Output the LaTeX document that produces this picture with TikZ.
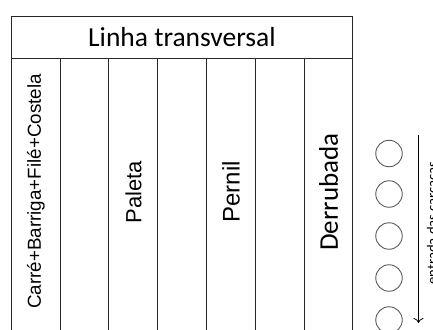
\documentclass[tikz,border=0pt]{standalone}
\usepackage{fontspec}
\setmainfont{Carlito}
\newfontfamily\arialf{Liberation Sans}
\usetikzlibrary{arrows.meta}
\tikzset{
  boxline/.style={draw=black!85, line width=0.9pt},
  colbox/.style={boxline, rectangle, inner sep=0pt, minimum width=48.5pt, minimum height=290pt, anchor=north west},
  headbox/.style={boxline, rectangle, inner sep=0pt, minimum width=341pt, minimum height=42pt, anchor=north west},
  coltext/.style={rotate=90, inner sep=0pt},
  station/.style={circle, draw=black!65, line width=0.9pt, minimum size=26.5pt, inner sep=0pt},
  flowarrow/.style={draw=black, line width=0.8pt, -{To[length=5pt,width=10pt]}}
}
\begin{document}
\begin{tikzpicture}[x=1pt,y=-1pt]
\useasboundingbox (0,0) rectangle (433,329);
\clip (0,0) rectangle (433,329);
% header
\node[headbox] (head) at (11,16) {};
\node[font=\fontsize{27.5}{30}\selectfont, inner sep=0pt] (headtext) at (head.center) {Linha transversal};
% columns
\node[colbox] (c1) at (11,58) {};
\node[colbox] (c2) at (108,58) {};
\node[colbox] (c3) at (206,58) {};
\node[colbox] (c4) at (303.5,58) {};
\node[coltext, font=\arialf\fontsize{18.8}{20}\selectfont] (t1) at (36,191.5) {Carré+Barriga+Filé+Costela};
\node[coltext, font=\arialf\fontsize{22}{24}\selectfont] (t2) at (133.5,192) {Paleta};
\node[coltext, font=\arialf\fontsize{24}{26}\selectfont] (t3) at (231,192) {Pernil};
\node[coltext, font=\fontsize{27}{29}\selectfont] (t4) at (328.5,192) {Derrubada};
% stations
\node[station] (s1) at (389,153.5) {};
\node[station] (s2) at (389,194) {};
\node[station] (s3) at (389,236) {};
\node[station] (s4) at (389,278) {};
\node[station] (s5) at (389,320) {};
% arrow
\coordinate (a0) at (418.5,134.5);
\coordinate (a1) at (418.5,323);
\draw[flowarrow] (a0) -- (a1);
\node[rotate=90, font=\fontsize{14.6}{16}\selectfont, anchor=base] (lab) at (437,223) {entrada das carcaças};
\end{tikzpicture}
\end{document}
